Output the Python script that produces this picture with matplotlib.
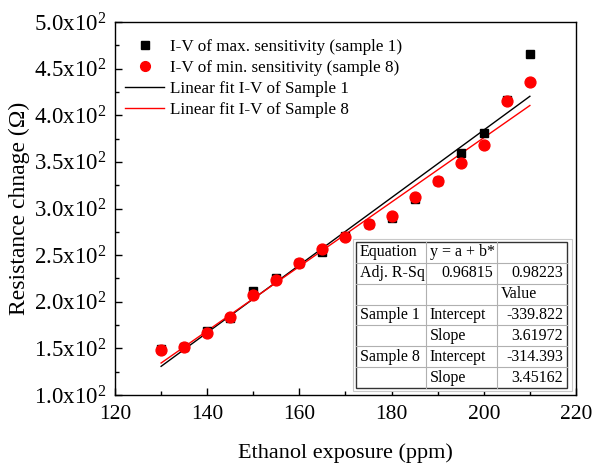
import matplotlib
matplotlib.use("Agg")
import matplotlib.pyplot as plt
from matplotlib.ticker import MultipleLocator, FuncFormatter
import numpy as np

plt.rcParams["font.family"] = ["Liberation Serif", "DejaVu Serif"]
plt.rcParams["mathtext.fontset"] = "custom"
plt.rcParams["mathtext.rm"] = "Liberation Serif"
plt.rcParams["mathtext.it"] = "Liberation Serif:italic"

# Ethanol concentration (ppm) and resistance change (ohm)
ethanol_ppm = [130, 135, 140, 145, 150, 155, 160, 165, 170,
               175, 180, 185, 190, 195, 200, 205, 210]
sample1_res = [149.5, 151, 169, 183, 212, 225, 242, 253, 270,
               283, 290, 310, 330, 360, 381, 416, 466]
sample8_res = [148.5, 152, 166, 183.5, 207.5, 223, 241.5, 257, 269.5,
               283.5, 291.5, 312.5, 330, 349, 368, 415.5, 436]

# Linear fit results
fit1_intercept, fit1_slope = -339.822, 3.61972
fit8_intercept, fit8_slope = -314.393, 3.45162
adj_r2 = ["0.96815", "0.98223"]

legend_labels = ["I-V of max. sensitivity (sample 1)",
                 "I-V of min. sensitivity (sample 8)",
                 "Linear fit I-V of Sample 1",
                 "Linear fit I-V of Sample 8"]

table_rows = [
    ["Equation", "y = a + b*", ""],
    ["Adj. R-Sq", adj_r2[0], adj_r2[1]],
    ["", "", "Value"],
    ["Sample 1", "Intercept", f"{fit1_intercept:.3f}"],
    ["", "Slope", f"{fit1_slope:.5f}"],
    ["Sample 8", "Intercept", f"{fit8_intercept:.3f}"],
    ["", "Slope", f"{fit8_slope:.5f}"],
]
# horizontal alignment of each cell
table_align = [
    ["left", "left", "left"],
    ["left", "right", "right"],
    ["left", "left", "left"],
    ["left", "left", "right"],
    ["left", "left", "right"],
    ["left", "left", "right"],
    ["left", "left", "right"],
]

fig = plt.figure(figsize=(5.95, 4.65), dpi=100)
ax = fig.add_axes([0.1933, 0.1505, 0.7747, 0.8022])

x = np.array(ethanol_ppm, dtype=float)
ax.plot(x, sample1_res, linestyle="none", marker="s", ms=6.0,
        color="black", label=legend_labels[0], zorder=3)
ax.plot(x, sample8_res, linestyle="none", marker="o", ms=7.8,
        color="red", markeredgecolor="red", label=legend_labels[1], zorder=4)
xf = np.array([x.min(), x.max()])
ax.plot(xf, fit1_intercept + fit1_slope * xf, color="black", lw=1.0,
        label=legend_labels[2], zorder=2)
ax.plot(xf, fit8_intercept + fit8_slope * xf, color="red", lw=1.0,
        label=legend_labels[3], zorder=2)

ax.set_xlim(120, 220)
ax.set_ylim(100, 500)
ax.xaxis.set_major_locator(MultipleLocator(20))
ax.xaxis.set_minor_locator(MultipleLocator(10))
ax.yaxis.set_major_locator(MultipleLocator(50))
ax.yaxis.set_minor_locator(MultipleLocator(25))


def sci_fmt(v, pos):
    return r"$\mathregular{%.1fx10^{2}}$" % (v / 100.0)


ax.yaxis.set_major_formatter(FuncFormatter(sci_fmt))
ax.tick_params(which="both", direction="in", top=False, right=False,
               width=1.0)
ax.tick_params(which="major", length=5)
ax.tick_params(which="minor", length=3)
ax.tick_params(axis="x", which="major", labelsize=15.5, pad=7)
ax.tick_params(axis="y", which="major", labelsize=16.5, pad=6)
for s in ax.spines.values():
    s.set_linewidth(1.0)

ax.set_xlabel("Ethanol exposure (ppm)", fontsize=16, labelpad=14)
ax.set_ylabel("Resistance chnage (\u03a9)", fontsize=17, labelpad=1)
ax.yaxis.set_label_coords(-0.185, 0.5)

leg = ax.legend(loc="upper left", bbox_to_anchor=(0.022, 0.955),
                frameon=False, fontsize=12.3, handlelength=2.3,
                handletextpad=0.3, labelspacing=0.3, borderpad=0,
                borderaxespad=0, markerscale=0.9)

# Fit summary table drawn in axes coordinates
tx0, tx1 = 0.523, 0.9805
ty0, ty1 = 0.019, 0.41
col_edges = [tx0, 0.6746, 0.8286, tx1]
nrows = len(table_rows)
rh = (ty1 - ty0) / nrows
ax.add_patch(plt.Rectangle((tx0 - 0.006, ty0 - 0.009),
                           tx1 - tx0 + 0.016, ty1 - ty0 + 0.018,
                           transform=ax.transAxes, facecolor="white",
                           edgecolor="#c8c8c8", lw=0.8, zorder=5))
ax.add_patch(plt.Rectangle((tx0, ty0), tx1 - tx0, ty1 - ty0,
                           transform=ax.transAxes, facecolor="white",
                           edgecolor="#333333", lw=1.0, zorder=6))
for i in range(1, nrows):
    yy = ty1 - i * rh
    ax.plot([tx0, tx1], [yy, yy], transform=ax.transAxes, color="#b0b0b0",
            lw=0.8, zorder=7)
for ce in col_edges[1:-1]:
    ax.plot([ce, ce], [ty0, ty1], transform=ax.transAxes, color="#b0b0b0",
            lw=0.8, zorder=7)
pad = 0.008
for i, row in enumerate(table_rows):
    yc = ty1 - (i + 0.5) * rh
    for j, txt in enumerate(row):
        if not txt:
            continue
        ha = table_align[i][j]
        xx = col_edges[j] + pad if ha == "left" else col_edges[j + 1] - pad
        ax.text(xx, yc, txt, transform=ax.transAxes, ha=ha, va="center",
                fontsize=11.5, zorder=8)

fig.savefig("out.png", dpi=100)
